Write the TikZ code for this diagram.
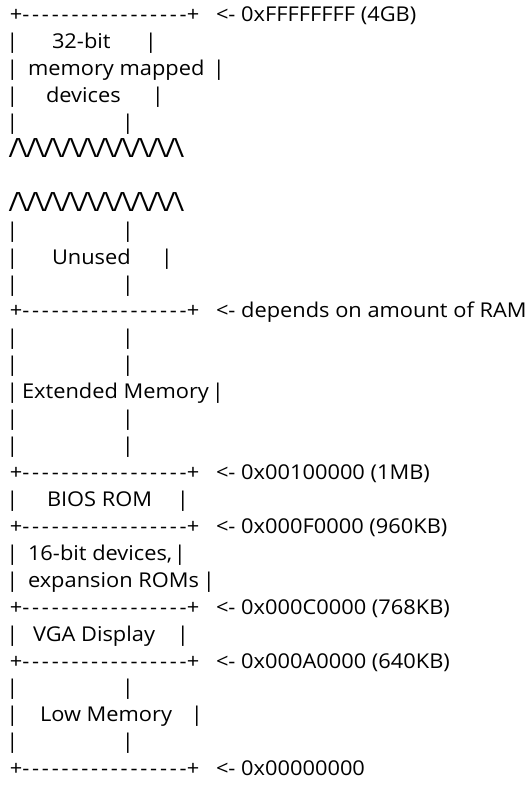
\documentclass[tikz,border=0pt]{standalone}
\usepackage{fontspec}
\setmainfont[FakeStretch=1.07]{Open Sans}
\newcommand\dsh{\makebox[9.833pt]{-}}
\newcommand\borderline{\makebox[0pt]{+}\hspace{4.917pt}\dsh\dsh\dsh\dsh\dsh\dsh\dsh\dsh\dsh\dsh\dsh\dsh\dsh\dsh\dsh\dsh\dsh\hspace{4.917pt}\makebox[0pt]{+}}
\newcommand\zz{\makebox[8.7pt]{\raisebox{-1.6pt}{\scalebox{1.3}{/}}}\makebox[8.7pt]{\raisebox{-1.6pt}{\scalebox{1.3}{\textbackslash}}}}
\newcommand\zigline{\zz\zz\zz\zz\zz\zz\zz\zz\zz\zz}
\newcommand\vpipe[3]{\node[txt,anchor=base] (#1) at (#2,{21.7+(#3-1)*26.93}) {|};}
\newcommand\word[4]{\node[txt,anchor=base west] (#1) at (#2,{21.7+(#3-1)*26.93}) {#4};}
\newcommand\bord[2]{\node[txt,anchor=base west] (#1) at (16,{21.7+(#2-1)*26.93}) {\borderline};}
\newcommand\zig[2]{\node[txt,anchor=base west] (#1) at (9.5,{21.7+(#2-1)*26.93}) {\zigline};}
\newcommand\addr[3]{\node[txt,anchor=base west] (#1) at (216,{21.7+(#2-1)*26.93}) {<- #3};}
\begin{document}
\begin{tikzpicture}[x=1pt,y=-1pt,
  txt/.style={inner sep=0pt,outer sep=0pt,font=\fontsize{20.4}{24}\selectfont,text=black}]
\useasboundingbox[fill=white] (0,0) rectangle (531,787);
% row 1
\bord{b1}{1}\addr{a1}{1}{0xFFFFFFFF (4GB)}
\vpipe{p2l}{12.3}{2}\word{t2}{52}{2}{32-bit}\vpipe{p2r}{151}{2}
\vpipe{p3l}{12.3}{3}\word{t3}{28}{3}{memory mapped}\vpipe{p3r}{219}{3}
\vpipe{p4l}{12.3}{4}\word{t4}{46}{4}{devices}\vpipe{p4r}{158}{4}
\vpipe{p5l}{12.3}{5}\vpipe{p5r}{128}{5}
\zig{z6}{6}
\zig{z8}{8}
\vpipe{p9l}{12.3}{9}\vpipe{p9r}{128}{9}
\vpipe{p10l}{12.3}{10}\word{t10}{52}{10}{Unused}\vpipe{p10r}{167}{10}
\vpipe{p11l}{12.3}{11}\vpipe{p11r}{128}{11}
\bord{b12}{12}\addr{a12}{12}{depends on amount of RAM}
\vpipe{p13l}{12.3}{13}\vpipe{p13r}{128}{13}
\vpipe{p14l}{12.3}{14}\vpipe{p14r}{128}{14}
\vpipe{p15l}{12.3}{15}\word{t15}{22}{15}{Extended Memory}\vpipe{p15r}{218}{15}
\vpipe{p16l}{12.3}{16}\vpipe{p16r}{128}{16}
\vpipe{p17l}{12.3}{17}\vpipe{p17r}{128}{17}
\bord{b18}{18}\addr{a18}{18}{0x00100000 (1MB)}
\vpipe{p19l}{12.3}{19}\word{t19}{47}{19}{BIOS ROM}\vpipe{p19r}{183}{19}
\bord{b20}{20}\addr{a20}{20}{0x000F0000 (960KB)}
\vpipe{p21l}{12.3}{21}\word{t21}{28}{21}{16-bit devices,}\vpipe{p21r}{180}{21}
\vpipe{p22l}{12.3}{22}\word{t22}{28}{22}{expansion ROMs}\vpipe{p22r}{209}{22}
\bord{b23}{23}\addr{a23}{23}{0x000C0000 (768KB)}
\vpipe{p24l}{12.3}{24}\word{t24}{33}{24}{VGA Display}\vpipe{p24r}{183}{24}
\bord{b25}{25}\addr{a25}{25}{0x000A0000 (640KB)}
\vpipe{p26l}{12.3}{26}\vpipe{p26r}{128}{26}
\vpipe{p27l}{12.3}{27}\word{t27}{40}{27}{Low Memory}\vpipe{p27r}{197}{27}
\vpipe{p28l}{12.3}{28}\vpipe{p28r}{128}{28}
\bord{b29}{29}\addr{a29}{29}{0x00000000}
\end{tikzpicture}
\end{document}
